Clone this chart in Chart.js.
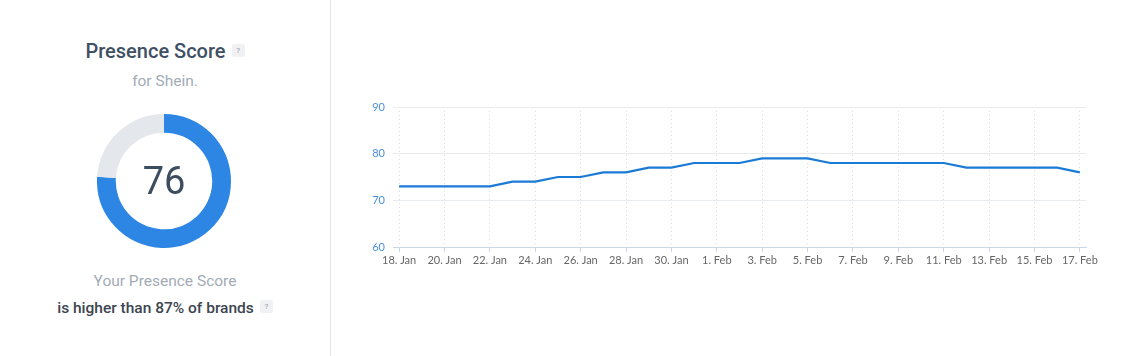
<!DOCTYPE html>
<html>
<head>
<meta charset="utf-8">
<script src="https://cdn.jsdelivr.net/npm/chart.js@4"></script>
<style>
  html, body { margin: 0; padding: 0; background: #fff; width: 1140px; height: 356px; overflow: hidden; }
  body { position: relative; font-family: Roboto, "Noto Sans", sans-serif; }
  .divider { position: absolute; left: 330px; top: 0; width: 1px; height: 356px; background: #e6e6e6; }
  .title { position: absolute; left: 0; width: 330px; top: 39px; line-height: 24px; text-align: center; font-size: 20px; font-weight: 500; color: #3f5064; }
  .sub { position: absolute; left: 0; width: 330px; top: 71px; line-height: 20px; text-align: center; font-size: 15.5px; color: #a3abb5; }
  .q { display: inline-block; width: 13px; height: 13px; line-height: 13px; font-size: 8px; background: #f0f1f3; color: #9aa2ab; border-radius: 2px; text-align: center; vertical-align: middle; margin-left: 6px; font-weight: 400; position: relative; top: -2px; }
  .score { position: absolute; left: 97px; top: 114px; width: 134px; height: 134px; }
  .num { position: absolute; left: 96px; top: 113px; width: 136px; height: 136px; line-height: 136px; text-align: center; font-size: 38px; color: #3d4d60; }
  .l1 { position: absolute; left: 0; width: 330px; top: 271px; line-height: 20px; text-align: center; font-size: 15.5px; color: #a3abb5; }
  .l2 { position: absolute; left: 0; width: 330px; top: 298px; line-height: 20px; text-align: center; font-size: 15.5px; font-weight: 500; color: #3d4550; }
  .line { position: absolute; left: 340px; top: 0; width: 800px; height: 356px; }
</style>
</head>
<body>
<div class="divider"></div>
<div class="title">Presence Score<span class="q">?</span></div>
<div class="sub">for Shein.</div>
<div class="score"><canvas id="donut" width="134" height="134"></canvas></div>
<div class="num">76</div>
<div class="l1">Your Presence Score</div>
<div class="l2">is higher than 87% of brands<span class="q">?</span></div>
<div class="line"><canvas id="line" width="800" height="356"></canvas></div>
<script>
const scoreParts = [76, 24];
const scoreColors = ['#2d86e3', '#e4e7eb'];

const dateLabels = ['18. Jan','19. Jan','20. Jan','21. Jan','22. Jan','23. Jan','24. Jan','25. Jan','26. Jan','27. Jan','28. Jan','29. Jan','30. Jan','31. Jan','1. Feb','2. Feb','3. Feb','4. Feb','5. Feb','6. Feb','7. Feb','8. Feb','9. Feb','10. Feb','11. Feb','12. Feb','13. Feb','14. Feb','15. Feb','16. Feb','17. Feb'];
const presenceValues = [73,73,73,73,73,74,74,75,75,76,76,77,77,78,78,78,79,79,79,78,78,78,78,78,78,77,77,77,77,77,76];
const yTicks = [60, 70, 80, 90];

new Chart(document.getElementById('donut'), {
  type: 'doughnut',
  data: { datasets: [{ data: scoreParts, backgroundColor: scoreColors, borderWidth: 0 }] },
  options: {
    responsive: false, animation: false, cutout: '72%',
    plugins: { legend: { display: false }, tooltip: { enabled: false } }
  }
});

const pts = presenceValues.map((v, i) => ({ x: i, y: v }));

new Chart(document.getElementById('line'), {
  type: 'line',
  data: { datasets: [{ data: pts, borderColor: '#1a7ad6', borderWidth: 2.2, pointRadius: 0, tension: 0, fill: false }] },
  options: {
    responsive: false, animation: false,
    layout: { padding: { left: 0, top: 107, right: 54, bottom: 84 } },
    plugins: { legend: { display: false }, tooltip: { enabled: false } },
    scales: {
      x: {
        type: 'linear', min: -0.27, max: dateLabels.length - 1 + 0.27,
        afterFit: s => { s.height = 25; },
        afterBuildTicks: s => { s.ticks = dateLabels.map((l, i) => ({ value: i })).filter(t => t.value % 2 === 0); },
        ticks: { autoSkip: false, maxRotation: 0, padding: 2, color: '#666666', font: { family: 'Lato', size: 11 }, callback: v => dateLabels[v] },
        grid: { color: '#dcdcdc', tickLength: 5, tickColor: '#ccd6eb', tickBorderDash: [], drawTicks: true },
        border: { display: true, color: '#ccd6eb', width: 1, dash: [1, 3] }
      },
      y: {
        min: 60, max: 90,
        afterFit: s => { s.width = 53; },
        afterBuildTicks: s => { s.ticks = yTicks.map(v => ({ value: v })); },
        ticks: { padding: 8, color: '#4a8fdf', font: { family: 'Lato', size: 11 } },
        grid: { color: '#e9ecef', drawTicks: false },
        border: { display: false }
      }
    }
  }
});
</script>
</body>
</html>
